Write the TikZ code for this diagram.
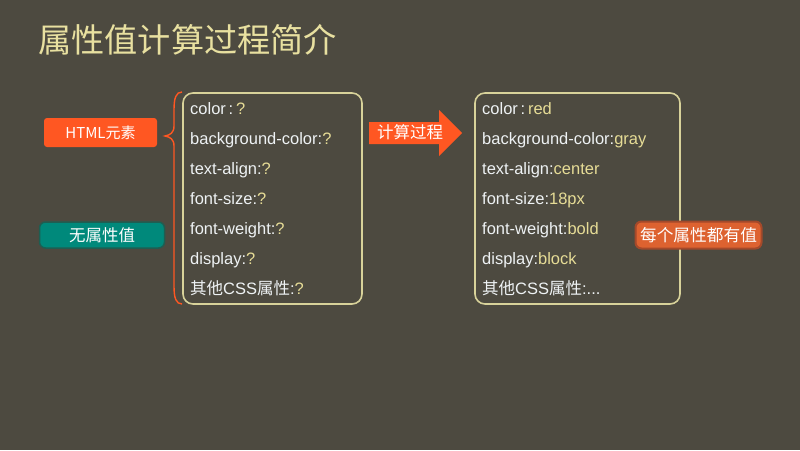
\documentclass[tikz,border=0pt]{standalone}
\usepackage{fontspec}
\setmainfont{Liberation Sans}
\newfontfamily\cjk{Noto Sans CJK SC}
\definecolor{bgc}{HTML}{4D4A40}
\definecolor{titlec}{HTML}{E8E0A0}
\definecolor{framec}{HTML}{D8D29A}
\definecolor{valc}{HTML}{E6DC96}
\definecolor{keyc}{HTML}{EEF2F4}
\definecolor{orangec}{HTML}{FF5722}
\definecolor{tealc}{HTML}{00897B}
\definecolor{tealb}{HTML}{1E5E52}
\definecolor{allc}{HTML}{DD6230}
\definecolor{allb}{HTML}{A4492A}
\tikzset{
  prop/.style={anchor=base west, inner sep=0pt, text=keyc, font=\fontsize{16.5}{16.5}\selectfont},
  panel/.style={draw=framec, line width=1.6pt, rounded corners=10pt},
  tag/.style={text=white, font=\cjk\fontsize{16.5}{16.5}\selectfont}
}
\begin{document}
\begin{tikzpicture}[x=1pt,y=-1pt]
\fill[bgc] (0,0) rectangle (800,450);
\useasboundingbox (0,0) rectangle (800,450);
\node[anchor=west, text=titlec, inner sep=0pt, font=\cjk\fontsize{33.2}{33.2}\selectfont] (title) at (38,40) {属性值计算过程简介};

% left panel
\draw[panel] (183,93) rectangle (362,304);
\node[prop] (l1) at (190,114) {color\,:\,\textcolor{valc}{?}};
\node[prop] (l2) at (190,144) {background-color:\textcolor{valc}{?}};
\node[prop] (l3) at (190,174) {text-align:\textcolor{valc}{?}};
\node[prop] (l4) at (190,204) {font-size:\textcolor{valc}{?}};
\node[prop] (l5) at (190,234) {font-weight:\textcolor{valc}{?}};
\node[prop] (l6) at (190,264) {display:\textcolor{valc}{?}};
\node[prop] (l7) at (190,294) {{\cjk 其他}CSS{\cjk 属性}:\textcolor{valc}{?}};

% brace
\coordinate (bt) at (182,92);
\coordinate (bb) at (182,304);
\draw[orangec, line width=1.4pt] (bt) .. controls (176,92) and (174,98) .. (174,110)
  -- (174,126) .. controls (174,133) and (170,135) .. (165,136)
  .. controls (170,137) and (174,139) .. (174,146)
  -- (174,286) .. controls (174,298) and (176,304) .. (bb);

% left tags
\node[tag, fill=orangec, rounded corners=3pt, minimum width=113pt, minimum height=29pt, inner sep=0pt, font=\cjk\fontsize{15}{15}\selectfont] (html) at (100.5,132.5) {HTML元素};
\node[tag, fill=tealc, draw=tealb, line width=1.5pt, rounded corners=6pt, minimum width=125pt, minimum height=26pt, inner sep=0pt] (none) at (102,235) {无属性值};

% arrow
\coordinate (arrtip) at (462,133);
\fill[orangec] (369,122) -- (439,122) -- (439,110) -- (arrtip) -- (439,156) -- (439,144) -- (369,144) -- cycle;
\node[tag, inner sep=0pt] (arrt) at (410,132) {计算过程};

% right panel
\draw[panel] (475,93) rectangle (680,304);
\node[prop] (r1) at (482,114) {color\,:\,\textcolor{valc}{red}};
\node[prop] (r2) at (482,144) {background-color:\textcolor{valc}{gray}};
\node[prop] (r3) at (482,174) {text-align:\textcolor{valc}{center}};
\node[prop] (r4) at (482,204) {font-size:\textcolor{valc}{18px}};
\node[prop] (r5) at (482,234) {font-weight:\textcolor{valc}{bold}};
\node[prop] (r6) at (482,264) {display:\textcolor{valc}{block}};
\node[prop] (r7) at (482,294) {{\cjk 其他}CSS{\cjk 属性}:...};

\node[tag, fill=allc, draw=allb, line width=2pt, rounded corners=6pt, minimum width=126pt, minimum height=27pt, inner sep=0pt, font=\cjk\fontsize{16.7}{16.7}\selectfont] (all) at (698.5,235) {每个属性都有值};
\end{tikzpicture}
\end{document}
